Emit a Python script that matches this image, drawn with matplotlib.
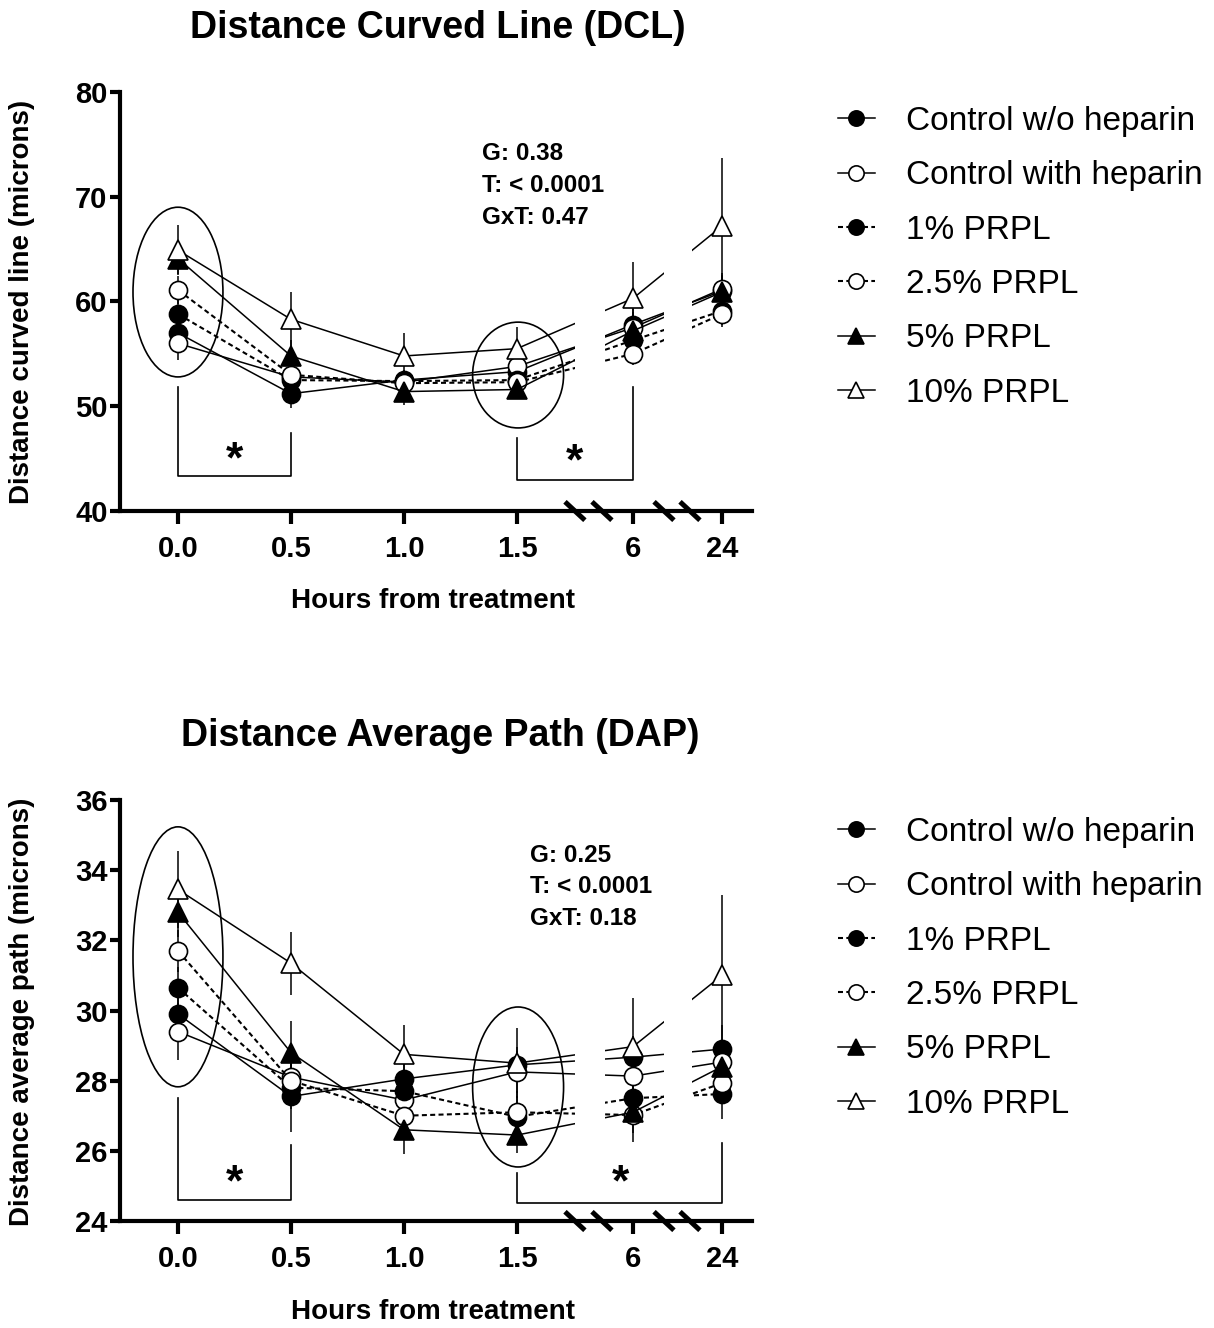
import numpy as np
import matplotlib
matplotlib.use('Agg')
import matplotlib.pyplot as plt
from matplotlib.patches import Ellipse
from matplotlib.lines import Line2D

plt.rcParams['font.family'] = ['Liberation Sans', 'DejaVu Sans']

######################################################################################
# Data: mean +/- SEM for each group at each time point
######################################################################################

hours = ['0.0', '0.5', '1.0', '1.5', '6', '24']
# place of each time point on the broken x axis (1 unit = half an hour before the breaks)
xpos = [0, 1, 2, 3, 4.027, 4.814]

groups = ['Control w/o heparin', 'Control with heparin', '1% PRPL',
          '2.5% PRPL', '5% PRPL', '10% PRPL']

dcl_mean = [[57.0, 51.2, 52.5, 53.3, 57.8, 61.0],
            [56.0, 52.8, 52.3, 53.8, 57.5, 61.2],
            [58.8, 52.5, 52.4, 52.5, 56.3, 59.1],
            [61.1, 53.0, 52.2, 52.3, 55.0, 58.8],
            [64.1, 54.8, 51.4, 51.6, 57.2, 60.9],
            [64.9, 58.3, 54.8, 55.5, 60.3, 67.2]]
dcl_sem = [[1.2, 1.4, 1.0, 1.0, 1.5, 1.5],
           [1.6, 1.0, 1.0, 1.0, 1.5, 1.5],
           [1.3, 1.0, 1.0, 1.0, 1.5, 1.3],
           [1.3, 1.0, 1.0, 1.0, 1.1, 1.2],
           [1.5, 1.5, 1.3, 0.9, 1.5, 1.5],
           [2.4, 2.6, 2.2, 2.1, 3.5, 6.5]]

dap_mean = [[29.9, 27.55, 28.05, 28.45, 28.67, 28.9],
            [29.4, 28.1, 27.45, 28.25, 28.13, 28.53],
            [30.65, 27.8, 27.7, 26.97, 27.5, 27.62],
            [31.7, 28.0, 27.0, 27.1, 27.02, 27.93],
            [32.8, 28.8, 26.6, 26.45, 27.1, 28.4],
            [33.45, 31.35, 28.75, 28.5, 28.97, 31.0]]
dap_sem = [[0.6, 1.0, 0.6, 0.5, 0.6, 0.7],
           [0.8, 0.6, 0.6, 0.6, 0.6, 0.6],
           [0.6, 0.6, 0.6, 0.6, 0.6, 0.7],
           [0.6, 0.6, 0.6, 0.6, 0.77, 0.6],
           [0.7, 0.9, 0.7, 0.5, 0.6, 0.7],
           [1.1, 0.9, 0.85, 1.0, 1.4, 2.3]]

dcl_stats = 'G: 0.38\nT: < 0.0001\nGxT: 0.47'
dap_stats = 'G: 0.25\nT: < 0.0001\nGxT: 0.18'

######################################################################################
# Styles
######################################################################################

markers = ['o', 'o', 'o', 'o', '^', '^']
faces = ['black', 'white', 'black', 'white', 'black', 'white']
dash = (0, (2.4, 1.6))
lstyles = ['-', '-', dash, dash, '-', '-']
lwidths = [1.1, 1.1, 1.5, 1.5, 1.1, 1.1]

xlim = (-0.513, 5.08)
gaps = [(3.513, 3.779), (4.301, 4.549)]
slashes = [3.513, 3.752, 4.301, 4.531]

fig = plt.figure(figsize=(12.14, 13.28), dpi=100)


def px(x, y):
    return x / 1214, 1 - y / 1328


def panel(ax, means, sems, ylim, yticks):
    for i in range(len(groups)):
        ax.errorbar(xpos, means[i], yerr=sems[i], color='black', lw=lwidths[i],
                    ls=lstyles[i], marker=markers[i], ms=13 if markers[i] == 'o' else 14,
                    mfc=faces[i], mec='black', mew=1.2, elinewidth=1.1,
                    capsize=0, zorder=2 + i * 0.01, label=groups[i])
    # blank out the broken parts of the axis
    for g0, g1 in gaps:
        ax.axvspan(g0, g1, ymin=0.006, ymax=1, color='white', lw=0, zorder=2.4)
    ax.set_xlim(*xlim)
    ax.set_ylim(*ylim)
    ax.set_yticks(yticks)
    ax.set_xticks(xpos)
    ax.set_xticklabels(hours)
    for s in ['top', 'right']:
        ax.spines[s].set_visible(False)
    for s in ['left', 'bottom']:
        ax.spines[s].set_linewidth(3)
    ax.tick_params(axis='x', width=3, length=9, pad=8, labelsize=21)
    ax.tick_params(axis='y', width=3, length=7, pad=2, labelsize=21)
    for lab in ax.get_xticklabels() + ax.get_yticklabels():
        lab.set_fontweight('bold')
    # break marks on the x axis
    tr = ax.get_xaxis_transform()
    for s in slashes:
        ax.plot([s - 0.088, s + 0.088], [0.022, -0.022], color='black', lw=3.6,
                transform=tr, clip_on=False, solid_capstyle='butt', zorder=5)


def bracket(ax, x0, x1, y0, y1, yb, sx, sy):
    ax.plot([x0, x0, x1, x1], [y0, yb, yb, y1], color='black', lw=1.2,
            zorder=4, clip_on=False)
    ax.text(sx, sy, '*', ha='center', va='center', fontsize=32,
            fontweight='bold', zorder=4)


######################################################################################
# Top panel: DCL
######################################################################################

ax1 = fig.add_axes([120 / 1214, 817 / 1328, 632 / 1214, 419 / 1328])
panel(ax1, dcl_mean, dcl_sem, (40, 80), [40, 50, 60, 70, 80])
ax1.add_patch(Ellipse((0, 60.9), 0.796, 16.2, fill=False, lw=1.2, zorder=4))
ax1.add_patch(Ellipse((3.01, 52.98), 0.805, 10.1, fill=False, lw=1.2, zorder=4))
bracket(ax1, 0, 1, 51.84, 47.45, 43.34, 0.5, 44.8)
bracket(ax1, 3, 4.027, 46.97, 51.84, 42.96, 3.513, 44.6)
ax1.text(2.69, 75.2, dcl_stats, ha='left', va='top', fontsize=17.5,
         fontweight='bold', linespacing=1.48, zorder=6)

fig.text(*px(438, 28), 'Distance Curved Line (DCL)', ha='center', va='center',
         fontsize=27, fontweight='bold')
fig.text(*px(433, 601), 'Hours from treatment', ha='center', va='center',
         fontsize=20, fontweight='bold')
fig.text(*px(22, 302), 'Distance curved line (microns)', ha='center', va='center',
         rotation=90, fontsize=20, fontweight='bold')

######################################################################################
# Bottom panel: DAP
######################################################################################

ax2 = fig.add_axes([120 / 1214, 107 / 1328, 632 / 1214, 421 / 1328])
panel(ax2, dap_mean, dap_sem, (24, 36), [24, 26, 28, 30, 32, 34, 36])
ax2.add_patch(Ellipse((0, 31.53), 0.796, 7.41, fill=False, lw=1.2, zorder=4))
ax2.add_patch(Ellipse((3.01, 27.82), 0.805, 4.56, fill=False, lw=1.2, zorder=4))
bracket(ax2, 0, 1, 27.5, 26.17, 24.6, 0.5, 25.05)
bracket(ax2, 3, 4.814, 25.37, 26.22, 24.51, 3.912, 25.05)
ax2.text(3.115, 34.75, dap_stats, ha='left', va='top', fontsize=17.5,
         fontweight='bold', linespacing=1.48, zorder=6)

fig.text(*px(440, 736), 'Distance Average Path (DAP)', ha='center', va='center',
         fontsize=27, fontweight='bold')
fig.text(*px(433, 1312), 'Hours from treatment', ha='center', va='center',
         fontsize=20, fontweight='bold')
fig.text(*px(22, 1012), 'Distance average path (microns)', ha='center', va='center',
         rotation=90, fontsize=20, fontweight='bold')

######################################################################################
# Legends
######################################################################################

handles = [Line2D([], [], color='black', lw=lwidths[i], ls=lstyles[i], marker=markers[i],
                  ms=11 if markers[i] == 'o' else 12, mfc=faces[i], mec='black', mew=1.2)
           for i in range(len(groups))]
for ytop in [106, 817]:
    fig.legend(handles, groups, loc='upper left', bbox_to_anchor=px(838, ytop),
               frameon=False, fontsize=24, handlelength=1.1, handletextpad=0.95,
               labelspacing=0.7, borderaxespad=0, borderpad=0, numpoints=1)

plt.savefig('out.png', dpi=100)
